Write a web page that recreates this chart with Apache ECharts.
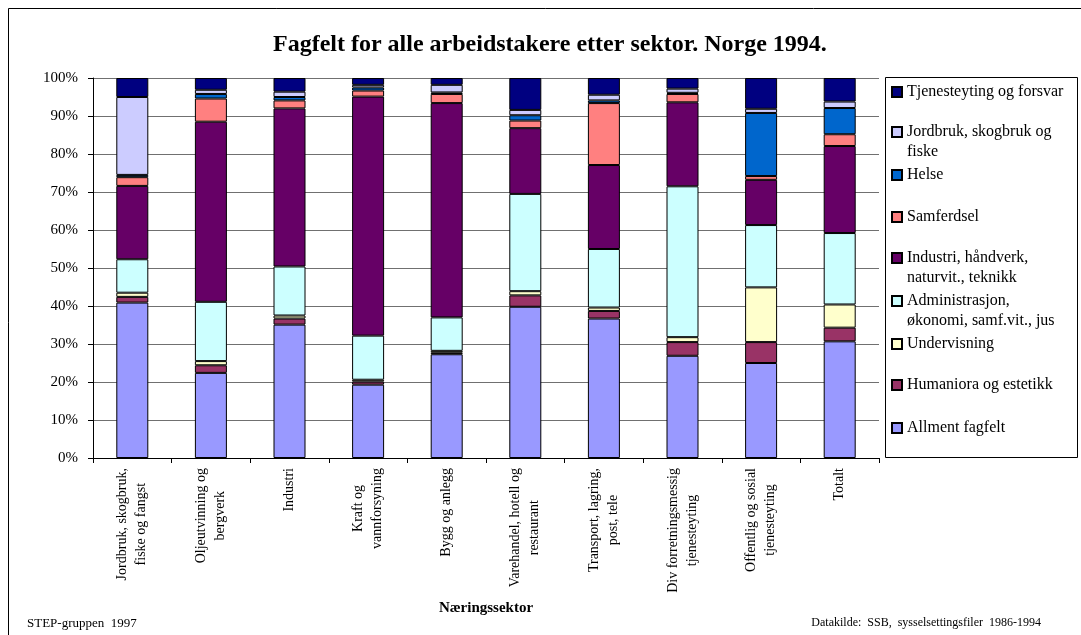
<!DOCTYPE html>
<html>
<head>
<meta charset="utf-8">
<title>Fagfelt for alle arbeidstakere etter sektor. Norge 1994.</title>
<script src="https://cdn.jsdelivr.net/npm/echarts@6/dist/echarts.min.js"></script>
<style>
  html, body { margin: 0; padding: 0; background: #fff; }
  #chart { width: 1081px; height: 635px; }
</style>
</head>
<body>
<div id="chart"></div>
<script>
  // sectors on the x axis
  const sectors = [
    'Jordbruk, skogbruk,\nfiske og fangst',
    'Oljeutvinning og\nbergverk',
    'Industri',
    'Kraft og\nvannforsyning',
    'Bygg og anlegg',
    'Varehandel, hotell og\nrestaurant',
    'Transport, lagring,\npost, tele',
    'Div forretningsmessig\ntjenesteyting',
    'Offentlig og sosial\ntjenesteyting',
    'Totalt'
  ]

  // share (%) per field, stacked from the bottom
  const allment      = [40.9, 22.4, 35.1, 19.3, 27.3, 39.8, 36.7, 26.9, 25.0, 30.7]
  const humaniora    = [1.5, 2.0, 1.6, 0.8, 0.4, 3.0, 2.0, 3.6, 5.5, 3.6]
  const undervisning = [1.1, 1.1, 0.8, 0.5, 0.5, 1.1, 0.9, 1.3, 14.4, 6.1]
  const administrasjon = [8.8, 15.6, 12.9, 11.6, 8.8, 25.6, 15.4, 39.7, 16.4, 18.8]
  const industri     = [19.3, 47.4, 41.6, 62.9, 56.4, 17.3, 22.1, 22.1, 11.9, 22.9]
  const samferdsel   = [2.3, 6.1, 2.1, 1.6, 2.4, 2.0, 16.3, 2.2, 1.0, 3.1]
  const helse        = [0.6, 1.2, 0.9, 0.8, 0.4, 1.4, 0.7, 0.3, 16.6, 6.9]
  const jordbruk     = [20.5, 1.1, 1.4, 0.7, 2.0, 1.4, 1.5, 1.1, 1.1, 1.7]
  const tjenesteyting = [5.0, 3.1, 3.6, 1.8, 1.8, 8.4, 4.4, 2.8, 8.1, 6.2]

  const fieldNames = [
    'Allment fagfelt',
    'Humaniora og estetikk',
    'Undervisning',
    'Administrasjon, økonomi, samf.vit., jus',
    'Industri, håndverk, naturvit., teknikk',
    'Samferdsel',
    'Helse',
    'Jordbruk, skogbruk og fiske',
    'Tjenesteyting og forsvar'
  ]
  const fieldValues = [allment, humaniora, undervisning, administrasjon, industri,
    samferdsel, helse, jordbruk, tjenesteyting]
  const fieldColors = ['#9999ff', '#993366', '#ffffcc', '#ccffff', '#660066',
    '#ff8080', '#0066cc', '#ccccff', '#000080']

  const yTicks = { min: 0, max: 100, step: 10 }

  // legend label wrapping as in the original
  const legendWrap = {
    'Jordbruk, skogbruk og fiske': 'Jordbruk, skogbruk og\nfiske',
    'Industri, håndverk, naturvit., teknikk': 'Industri, håndverk,\nnaturvit., teknikk',
    'Administrasjon, økonomi, samf.vit., jus': 'Administrasjon,\nøkonomi, samf.vit., jus'
  }

  const FONT = '"Liberation Serif", "Times New Roman", serif'
  // icon centre y of each legend entry, top to bottom
  const legendY = [92, 132, 175, 217, 258, 301, 344, 385, 428]

  // one legend per entry so the spacing follows the original;
  // a leading empty line keeps the icon level with the first text line
  const legendOrder = fieldNames.slice().reverse()
  const legends = legendOrder.map((name, i) => {
    const twoLine = !!legendWrap[name]
    return {
      data: [name],
      left: 891,
      top: legendY[i] - (twoLine ? 30 : 10),
      padding: 0,
      itemWidth: 10,
      itemHeight: 10,
      icon: 'rect',
      selectedMode: false,
      formatter: n => legendWrap[n] ? '\n' + legendWrap[n] : n,
      textStyle: { fontFamily: FONT, fontSize: 16, color: '#000', lineHeight: 20 }
    }
  })

  const chart = echarts.init(document.getElementById('chart'))
  chart.setOption({
    animation: false,
    backgroundColor: '#fff',
    title: [
      {
        text: 'Fagfelt for alle arbeidstakere etter sektor. Norge 1994.',
        left: 268, top: 28,
        textStyle: { fontFamily: FONT, fontSize: 24, fontWeight: 'bold', color: '#000' }
      },
      {
        text: 'STEP-gruppen  1997', left: 22, top: 612,
        textStyle: { fontFamily: FONT, fontSize: 13, fontWeight: 'normal', color: '#000' }
      },
      {
        text: 'Datakilde:  SSB,  sysselsettingsfiler  1986-1994', right: 35, top: 612,
        textStyle: { fontFamily: FONT, fontSize: 12, fontWeight: 'normal', color: '#000' }
      }
    ],
    legend: legends,
    graphic: [
      {
        type: 'rect', z: -10, silent: true,
        shape: { x: 8.5, y: 8.5, width: 1100, height: 700 },
        style: { fill: 'none', stroke: '#000', lineWidth: 1 }
      },
      {
        type: 'rect', z: -10, silent: true,
        shape: { x: 885.5, y: 77.5, width: 192, height: 380 },
        style: { fill: 'none', stroke: '#000', lineWidth: 1 }
      }
    ],
    grid: { left: 93, right: 202, top: 78, bottom: 177, containLabel: false },
    xAxis: {
      type: 'category',
      data: sectors,
      name: 'Næringssektor',
      nameLocation: 'middle',
      nameGap: 143,
      nameTextStyle: { fontFamily: FONT, fontSize: 15, fontWeight: 'bold', color: '#000' },
      axisLine: { lineStyle: { color: '#000', width: 1 } },
      axisTick: { show: true, interval: 0, length: 5, lineStyle: { color: '#000' } },
      axisLabel: {
        interval: 0,
        rotate: 90,
        margin: 10,
        color: '#000',
        fontFamily: FONT,
        fontSize: 14,
        formatter: v => v.split('\n').map(s => '{c|' + s + '}').join('\n'),
        rich: { c: { align: 'center', fontFamily: FONT, fontSize: 14, lineHeight: 19, color: '#000' } }
      }
    },
    yAxis: {
      type: 'value',
      min: yTicks.min,
      max: yTicks.max,
      interval: yTicks.step,
      axisLine: { show: true, lineStyle: { color: '#000', width: 1 } },
      axisTick: { show: true, length: 5, lineStyle: { color: '#000' } },
      axisLabel: { formatter: '{value}%', color: '#000', fontFamily: FONT, fontSize: 15, margin: 15 },
      splitLine: { lineStyle: { color: '#707070', width: 1 } }
    },
    series: fieldNames.map((name, i) => ({
      name,
      type: 'bar',
      stack: 'total',
      barWidth: 32,
      data: fieldValues[i],
      itemStyle: { color: fieldColors[i], borderColor: '#000', borderWidth: 1 },
      emphasis: { disabled: true }
    }))
  })
</script>
</body>
</html>
